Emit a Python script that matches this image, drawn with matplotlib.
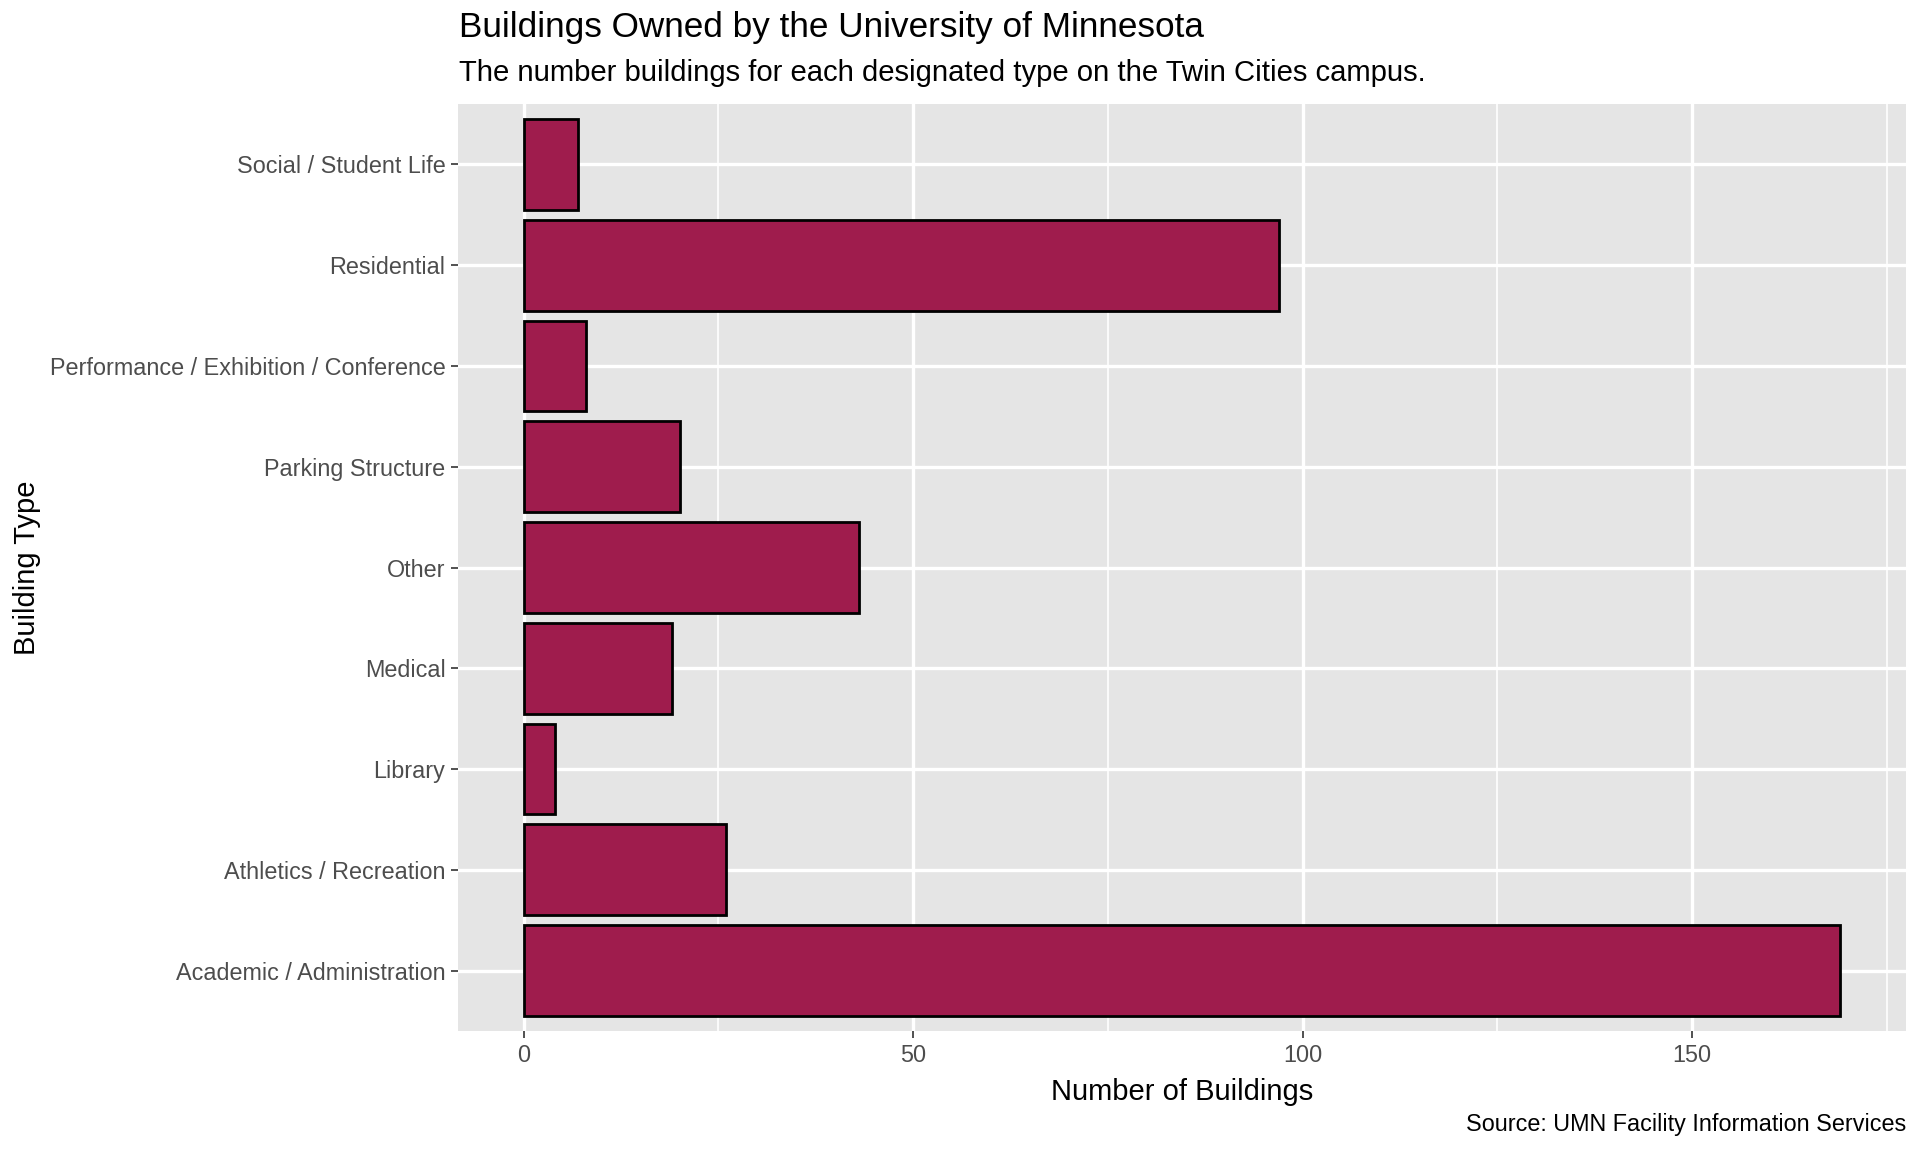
import matplotlib.pyplot as plt
from matplotlib.ticker import MultipleLocator

categories = ['Academic / Administration', 'Athletics / Recreation', 'Library',
              'Medical', 'Other', 'Parking Structure',
              'Performance / Exhibition / Conference', 'Residential',
              'Social / Student Life']
counts = [169, 26, 4, 19, 43, 20, 8, 97, 7]
x_ticks = [0, 50, 100, 150]

plt.rcParams['font.family'] = ['Liberation Sans', 'DejaVu Sans']

fig = plt.figure(figsize=(19.2, 11.52), dpi=100)
ax_left, ax_width = 0.2385, 0.7542
ax = fig.add_axes([ax_left, 0.105, ax_width, 0.8047])
ax.set_facecolor('#E5E5E5')

ypos = list(range(len(categories)))
ax.barh(ypos, counts, height=0.9, color='#9F1C4D', edgecolor='black',
        linewidth=2, zorder=3)

top = max(counts)
ax.set_xlim(-0.05 * top, top * 1.05)
ax.set_ylim(-0.6, len(categories) - 0.4)

ax.set_xticks(x_ticks)
ax.xaxis.set_minor_locator(MultipleLocator(25))
ax.set_yticks(ypos)
ax.set_yticklabels(categories)

ax.grid(which='major', color='white', linewidth=2.4, zorder=0)
ax.grid(which='minor', axis='x', color='white', linewidth=1.2, zorder=0)
ax.set_axisbelow(True)
for s in ax.spines.values():
    s.set_visible(False)

ax.tick_params(axis='both', which='major', labelsize=16.8, colors='#333333',
               labelcolor='#4D4D4D', length=5, width=1.2, pad=4)
ax.tick_params(axis='x', which='minor', length=0)

ax.set_xlabel('Number of Buildings', fontsize=21, color='black', labelpad=8)
ax.set_ylabel('Building Type', fontsize=21, color='black', va='center')
ax.yaxis.set_label_coords((27 / 1920 - ax_left) / ax_width, 0.5)

fig.text(459 / 1920, 1 - 27 / 1152, 'Buildings Owned by the University of Minnesota',
         fontsize=25.3, ha='left', va='center')
fig.text(459 / 1920, 1 - 73 / 1152,
         'The number buildings for each designated type on the Twin Cities campus.',
         fontsize=21.1, ha='left', va='center')
fig.text(1906 / 1920, 1 - 1125 / 1152, 'Source: UMN Facility Information Services',
         fontsize=16.8, ha='right', va='center')

fig.savefig('out.png', dpi=100)
